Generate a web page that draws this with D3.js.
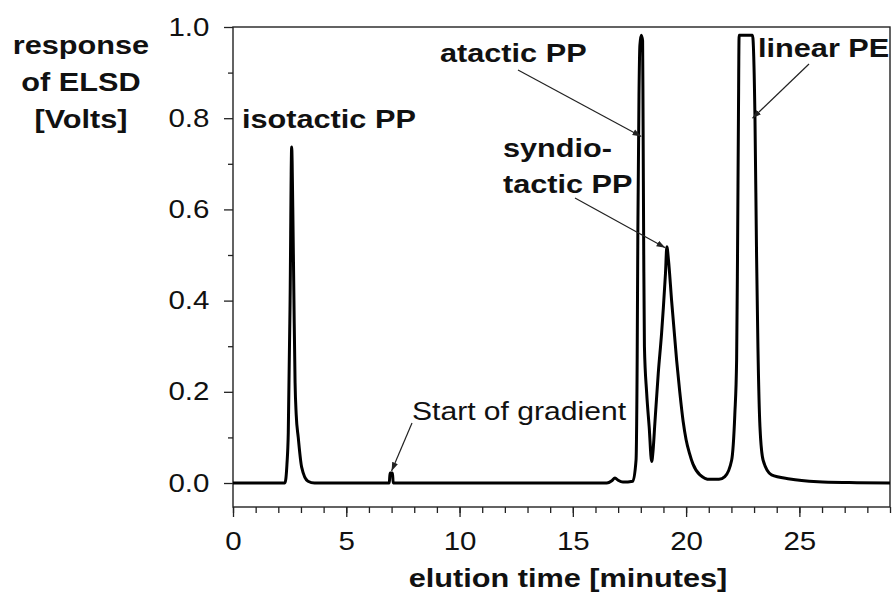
<!DOCTYPE html>
<html>
<head>
<meta charset="utf-8">
<script src="https://cdnjs.cloudflare.com/ajax/libs/d3/7.8.5/d3.min.js"></script>
<style>
  body { margin: 0; background: #fff; }
  svg { display: block; font-family: "Liberation Sans", Arial, Helvetica, sans-serif; }
  .tick line { stroke: #222; stroke-width: 1.3; }
  .tick text { font-size: 25px; fill: #111; }
  .lbl { font-size: 26px; font-weight: bold; fill: #111; }
</style>
</head>
<body>
<div id="chart"></div>
<script>
// elution time (minutes) and ELSD response (Volts)
var elutionTime = [0, 2.0, 2.29, 2.38, 2.44, 2.52, 2.59, 2.64, 2.69, 2.74, 2.79, 2.88, 3.03, 3.31, 3.6,
  6.9, 6.93, 7.04, 7.07, 16.5, 16.72, 16.86, 17.0, 17.21, 17.65, 17.79, 17.84,
  17.87, 17.92, 17.96, 18.02, 18.08, 18.1, 18.13, 18.16, 18.26, 18.37, 18.48, 18.54,
  18.62, 18.77, 18.92, 18.99, 19.09, 19.15, 19.22, 19.36, 19.58, 19.72, 19.87, 20.0, 20.15, 20.3,
  20.61, 21.05, 21.45, 21.71, 22.01, 22.15, 22.23, 22.27, 22.31, 22.34, 22.93, 23.04,
  23.11, 23.17, 23.26, 23.4, 23.77, 24.58, 25.82, 27.2, 29.0];
var response = [0, 0, 0, 0.04, 0.11, 0.40, 0.737, 0.6, 0.40, 0.22, 0.15, 0.10, 0.035, 0.004, 0,
  0, 0.022, 0.022, 0, 0, 0.005, 0.011, 0.006, 0.002, 0.004, 0.05, 0.27,
  0.55, 0.85, 0.96, 0.982, 0.97, 0.8, 0.5, 0.3, 0.197, 0.123, 0.047, 0.07,
  0.13, 0.24, 0.33, 0.38, 0.46, 0.518, 0.49, 0.4, 0.27, 0.2, 0.135, 0.095, 0.065, 0.042,
  0.018, 0.008, 0.008, 0.014, 0.05, 0.15, 0.27, 0.5, 0.8, 0.982, 0.982, 0.8,
  0.5, 0.3, 0.123, 0.05, 0.018, 0.009, 0.003, 0.001, 0];

var xMajorTicks = [0, 5, 10, 15, 20, 25];
var xMinorTicks = d3.range(0, 30, 1);
var yMajorTicks = [0, 0.2, 0.4, 0.6, 0.8, 1.0];
var yMinorTicks = [0.1, 0.3, 0.5, 0.7, 0.9];

var yTitle = ["response", "of ELSD", "[Volts]"];
var xTitle = "elution time [minutes]";

// peak labels: text lines, and the point (time, response) each arrow points to
var peakNames = [["isotactic PP"], ["atactic PP"], ["syndio-", "tactic PP"], ["linear PE"]];
var peakArrowTo = [null, [18.11, 0.76], [19.17, 0.516], [23.02, 0.80]];
var gradientNote = "Start of gradient";
var gradientAt = [7.0, 0.022];

var margin = {top: 27, right: 2, bottom: 86, left: 233};
var W = 892, H = 593;
var w = W - margin.left - margin.right;
var h = H - margin.top - margin.bottom;
var stretch = 1.18;

var svg = d3.select("#chart").append("svg")
  .attr("width", W)
  .attr("height", H);

svg.append("defs").append("marker")
  .attr("id", "arr")
  .attr("viewBox", "0 -4 10 8")
  .attr("refX", 10)
  .attr("refY", 0)
  .attr("markerUnits", "userSpaceOnUse")
  .attr("markerWidth", 9)
  .attr("markerHeight", 7)
  .attr("orient", "auto")
  .append("path")
  .attr("d", "M0,-3.5L10,0L0,3.5Z")
  .attr("fill", "#222");

var g = svg.append("g")
  .attr("transform", "translate(" + margin.left + "," + margin.top + ")");

var x = d3.scaleLinear().domain([0, 29]).range([0, w]);
var y = d3.scaleLinear().domain([-0.0526, 1.0]).range([h, 0]);

// axes: minor ticks then major ticks with labels
g.append("g").attr("class", "x-minor")
  .attr("transform", "translate(0," + h + ")")
  .call(d3.axisBottom(x).tickValues(xMinorTicks).tickSize(6).tickFormat(""));
g.append("g").attr("class", "x-axis")
  .attr("transform", "translate(0," + h + ")")
  .call(d3.axisBottom(x).tickValues(xMajorTicks).tickSize(10).tickPadding(15).tickFormat(d3.format("d")));
g.append("g").attr("class", "y-minor")
  .call(d3.axisLeft(y).tickValues(yMinorTicks).tickSize(5).tickFormat(""));
g.append("g").attr("class", "y-axis")
  .call(d3.axisLeft(y).tickValues(yMajorTicks).tickSize(9).tickPadding(11).tickFormat(d3.format(".1f")));

g.selectAll(".domain").remove();
g.selectAll(".tick text").attr("transform", "scale(" + stretch + ",1)");

// frame
g.append("rect")
  .attr("width", w)
  .attr("height", h)
  .attr("fill", "none")
  .attr("stroke", "#222")
  .attr("stroke-width", 1.4);

// trace
var pts = elutionTime.map(function(t, i) { return [t, response[i]]; });
var line = d3.line()
  .x(function(d) { return x(d[0]); })
  .y(function(d) { return y(d[1]); })
  .curve(d3.curveMonotoneX);

g.append("path")
  .datum(pts)
  .attr("d", line)
  .attr("fill", "none")
  .attr("stroke", "#000")
  .attr("stroke-width", 3)
  .attr("stroke-linejoin", "round");

// helper for the slightly wide lettering of the original
function putText(parent, str, px, py, cls, anchor) {
  return parent.append("text")
    .attr("class", cls)
    .attr("text-anchor", anchor || "start")
    .attr("transform", "translate(" + px + "," + py + ") scale(" + stretch + ",1)")
    .text(str);
}

// axis titles
yTitle.forEach(function(s, i) {
  putText(svg, s, 81, 54 + i * 37, "lbl", "middle");
});
putText(svg, xTitle, 568, 587, "lbl", "middle");

// peak labels (positions in page pixels)
var labelPos = [[242, 128], [440, 62], [503, 157], [758, 57]];
var arrowFrom = [null, [518, 70], [575, 198], [809, 64]];
peakNames.forEach(function(lines, i) {
  lines.forEach(function(s, j) {
    putText(svg, s, labelPos[i][0], labelPos[i][1] + j * 36, "lbl");
  });
  if (peakArrowTo[i]) {
    svg.append("line")
      .attr("x1", arrowFrom[i][0])
      .attr("y1", arrowFrom[i][1])
      .attr("x2", margin.left + x(peakArrowTo[i][0]) - 2)
      .attr("y2", margin.top + y(peakArrowTo[i][1]))
      .attr("stroke", "#222")
      .attr("stroke-width", 1.2)
      .attr("marker-end", "url(#arr)");
  }
});

// start of gradient note
putText(svg, gradientNote, 412, 420, "", "start")
  .style("font-size", "25.5px")
  .style("fill", "#111");
svg.append("line")
  .attr("x1", 412).attr("y1", 423)
  .attr("x2", margin.left + x(gradientAt[0]))
  .attr("y2", margin.top + y(gradientAt[1]) - 2)
  .attr("stroke", "#222")
  .attr("stroke-width", 1.2)
  .attr("marker-end", "url(#arr)");
</script>
</body>
</html>
